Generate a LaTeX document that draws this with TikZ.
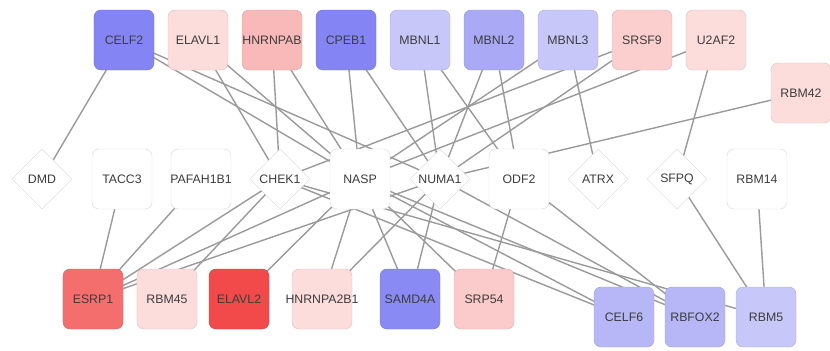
\documentclass[tikz,border=0pt]{standalone}
\usepackage{fontspec}
\setmainfont{Liberation Sans}
\usetikzlibrary{shapes.geometric,backgrounds}

\definecolor{link}{HTML}{9A9A9A}
\definecolor{label}{HTML}{3C3C3C}
\definecolor{rim}{HTML}{DADADA}
\definecolor{blue1}{HTML}{8484F5}
\definecolor{blue2}{HTML}{A9A9F6}
\definecolor{blue3}{HTML}{C7C7FA}
\definecolor{blue4}{HTML}{B7B7F8}
\definecolor{red1}{HTML}{F24A4A}
\definecolor{red2}{HTML}{F56E6E}
\definecolor{red3}{HTML}{F9B9B9}
\definecolor{red4}{HTML}{FBCACA}
\definecolor{red5}{HTML}{FDDCDC}

\tikzset{
  gene/.style={rectangle,rounded corners=6pt,fill=#1,draw=#1!88!black,
    minimum size=1.8cm,inner sep=0pt,text=label,font=\fontsize{10.5}{12}\selectfont},
  target/.style={rectangle,rounded corners=6pt,fill=white,draw=rim,
    minimum size=1.8cm,inner sep=0pt,text=label,font=\fontsize{10.5}{12}\selectfont},
  hub/.style={diamond,fill=white,draw=rim,
    minimum size=1.8cm,inner sep=0pt,text=label,font=\fontsize{10.5}{12}\selectfont},
  edge/.style={draw=link,line width=1.2pt},
}

\begin{document}
\begin{tikzpicture}[x=0.03cm,y=-0.03cm]
  \useasboundingbox (0,0) rectangle (830,350);

  % regulators, top row
  \foreach \n/\c/\x in {CELF2/blue1/124,ELAVL1/red5/198,HNRNPAB/red3/272,
      CPEB1/blue1/346,MBNL1/blue3/420,MBNL2/blue2/494,MBNL3/blue3/568,
      SRSF9/red4!70!red5/642,U2AF2/red5/716}
  {
    \node [gene=\c] at (\x, 40) (\n) {\makebox[0pt]{\n}};
  }
  \node [gene=red5] at (801, 93) (RBM42) {\makebox[0pt]{RBM42}};

  % targets, middle row
  \foreach \n/\x in {TACC3/122,PAFAH1B1/201,NASP/360,ODF2/519,RBM14/757}
  {
    \node [target] at (\x, 179) (\n) {\makebox[0pt]{\n}};
  }
  \foreach \n/\x in {DMD/42,CHEK1/280,NUMA1/440,ATRX/598,SFPQ/677}
  {
    \node [hub] at (\x, 179) (\n) {\makebox[0pt]{\n}};
  }

  % regulators, bottom row
  \foreach \n/\c/\x/\y in {ESRP1/red2/93/299,RBM45/red5/167/299,ELAVL2/red1/239/299,
      HNRNPA2B1/red5/322/299,SAMD4A/blue1!85!blue2/410/299,SRP54/red4/484/299,
      CELF6/blue4/624/317,RBFOX2/blue4/695/317,RBM5/blue3/766/317}
  {
    \node [gene=\c] at (\x, \y) (\n) {\makebox[0pt]{\n}};
  }

  \begin{scope}[on background layer]
    \foreach \a/\b in {CELF2/DMD,CELF2/NASP,CELF2/NUMA1,ELAVL1/CHEK1,ELAVL1/NASP,
        HNRNPAB/CHEK1,HNRNPAB/NASP,CPEB1/NASP,CPEB1/NUMA1,MBNL1/NUMA1,MBNL1/ODF2,
        MBNL2/NUMA1,MBNL2/ODF2,MBNL3/NASP,MBNL3/ATRX,SRSF9/CHEK1,SRSF9/NUMA1,
        U2AF2/NASP,U2AF2/SFPQ,RBM42/NUMA1}
    {
      \draw [edge] (\a.center) -- (\b.center);
    }
    \foreach \a/\b in {ESRP1/TACC3,ESRP1/PAFAH1B1,ESRP1/CHEK1,ESRP1/NASP,ESRP1/NUMA1,
        RBM45/CHEK1,ELAVL2/NASP,HNRNPA2B1/NASP,HNRNPA2B1/NUMA1,SAMD4A/NASP,
        SAMD4A/NUMA1,SRP54/NASP,SRP54/ODF2,CELF6/CHEK1,CELF6/NASP,RBFOX2/NASP,
        RBFOX2/NUMA1,RBFOX2/ODF2,RBM5/CHEK1,RBM5/SFPQ,RBM5/RBM14}
    {
      \draw [edge] (\a.center) -- (\b.center);
    }
  \end{scope}
\end{tikzpicture}
\end{document}
